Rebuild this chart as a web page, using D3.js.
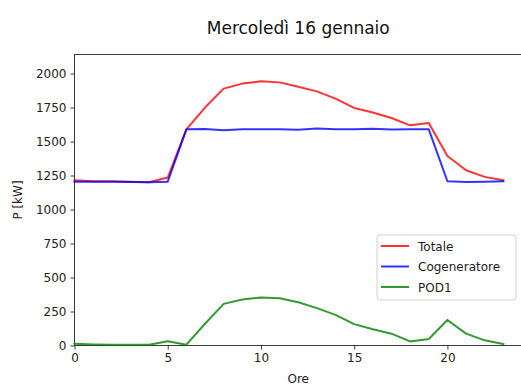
<!DOCTYPE html>
<html>
<head>
<meta charset="utf-8">
<script src="https://cdn.jsdelivr.net/npm/d3@7"></script>
<style>
  html, body { margin: 0; padding: 0; background: #fff; }
  svg { display: block; font-family: "DejaVu Sans", sans-serif; }
</style>
</head>
<body>
<svg id="chart" width="521" height="385"></svg>
<script>
// Hourly power profile (kW)
const ore = d3.range(0, 24);
const totale = [1215, 1208, 1207, 1205, 1200, 1235, 1590, 1750, 1889, 1926, 1943, 1935,
                1903, 1869, 1815, 1747, 1713, 1673, 1619, 1636, 1394, 1289, 1240, 1215];
const cogeneratore = [1205, 1205, 1205, 1203, 1200, 1205, 1590, 1592, 1583, 1590, 1590, 1590,
                      1586, 1595, 1590, 1590, 1594, 1588, 1590, 1590, 1208, 1203, 1205, 1207];
const pod1 = [12, 8, 6, 5, 5, 32, 6, 160, 306, 338, 353, 348,
              318, 275, 225, 157, 120, 87, 30, 48, 188, 87, 38, 10];
const xTicks = [0, 5, 10, 15, 20];
const yTicks = [0, 250, 500, 750, 1000, 1250, 1500, 1750, 2000];
const seriesNames = ["Totale", "Cogeneratore", "POD1"];
const seriesColors = ["#ff0000", "#0000ff", "#008000"];
const titolo = "Mercoledì 16 gennaio";

const svg = d3.select("#chart");
const plotLeft = 74.5, plotTop = 54.5, plotRight = 522, plotBottom = 345.5;

const x = d3.scaleLinear().domain([0, 24]).range([plotLeft, plotRight]);
const y = d3.scaleLinear().domain([0, 2140]).range([plotBottom, plotTop]);

// frame
svg.append("rect")
  .attr("x", plotLeft).attr("y", plotTop)
  .attr("width", plotRight - plotLeft).attr("height", plotBottom - plotTop)
  .attr("fill", "none").attr("stroke", "#3a3a3a").attr("stroke-width", 1);

// axes
const fmt = d3.format("d");
const xAxis = svg.append("g")
  .attr("transform", `translate(0,${plotBottom})`)
  .call(d3.axisBottom(x).tickValues(xTicks).tickFormat(fmt).tickSize(4).tickPadding(4));
const yAxis = svg.append("g")
  .attr("transform", `translate(${plotLeft},0)`)
  .call(d3.axisLeft(y).tickValues(yTicks).tickFormat(fmt).tickSize(4).tickPadding(4));
[xAxis, yAxis].forEach(g => {
  g.select(".domain").remove();
  g.selectAll(".tick line").attr("stroke", "#3a3a3a");
  g.selectAll(".tick text")
    .attr("fill", "#222")
    .style("font-size", "12px")
    .style("font-family", "DejaVu Sans, sans-serif");
});

// lines
const line = d3.line().x((d, i) => x(ore[i])).y(d => y(d));
[totale, cogeneratore, pod1].forEach((vals, k) => {
  svg.append("path")
    .datum(vals)
    .attr("d", line)
    .attr("fill", "none")
    .attr("stroke", seriesColors[k])
    .attr("stroke-opacity", 0.8)
    .attr("stroke-width", 2)
    .attr("stroke-linejoin", "round")
    .attr("stroke-linecap", "square");
});

// title and axis labels
svg.append("text")
  .attr("x", (plotLeft + plotRight) / 2).attr("y", 34)
  .attr("text-anchor", "middle")
  .attr("fill", "#111")
  .style("font-size", "17px")
  .text(titolo);

svg.append("text")
  .attr("x", (plotLeft + plotRight) / 2).attr("y", 383)
  .attr("text-anchor", "middle")
  .attr("fill", "#222")
  .style("font-size", "12px")
  .text("Ore");

svg.append("text")
  .attr("transform", `translate(22,${(plotTop + plotBottom) / 2}) rotate(-90)`)
  .attr("text-anchor", "middle")
  .attr("fill", "#222")
  .style("font-size", "12px")
  .text("P [kW]");

// legend
const lg = svg.append("g").attr("transform", "translate(377,235)");
lg.append("rect")
  .attr("x", 0).attr("y", 0).attr("width", 139).attr("height", 65)
  .attr("rx", 3).attr("ry", 3)
  .attr("fill", "#fff").attr("fill-opacity", 0.8)
  .attr("stroke", "#d0d0d0").attr("stroke-width", 1);
seriesNames.forEach((name, k) => {
  const cy = 11 + k * 20.5;
  lg.append("line")
    .attr("x1", 4).attr("x2", 32).attr("y1", cy).attr("y2", cy)
    .attr("stroke", seriesColors[k]).attr("stroke-opacity", 0.8)
    .attr("stroke-width", 2);
  lg.append("text")
    .attr("x", 41).attr("y", cy + 4.5)
    .attr("fill", "#222")
    .style("font-size", "12px")
    .text(name);
});
</script>
</body>
</html>
